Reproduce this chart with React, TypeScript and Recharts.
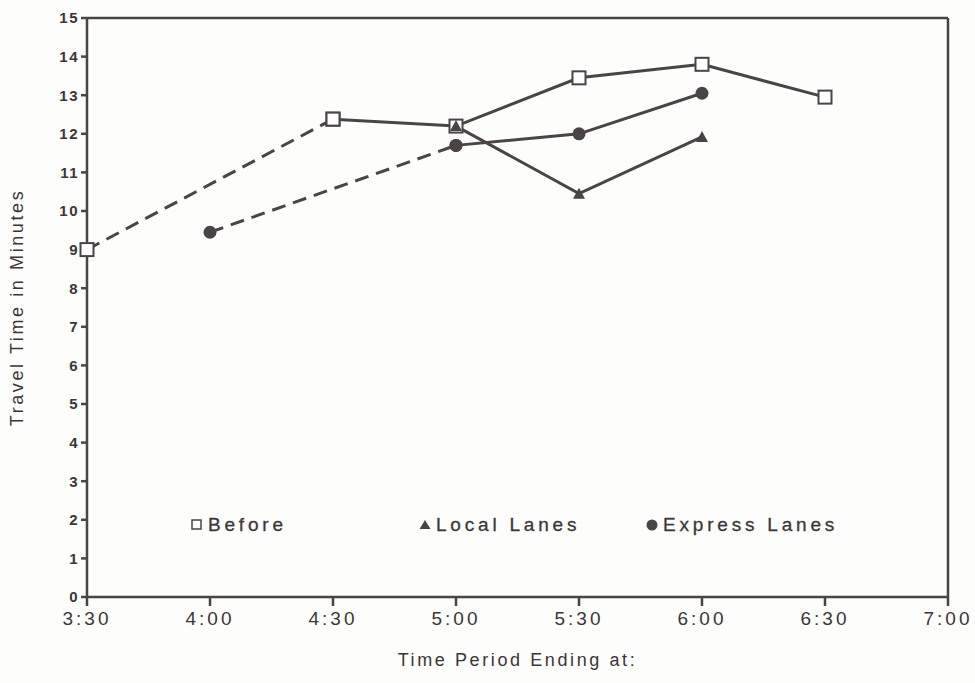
import React from "react";
import { LineChart, Line, XAxis, YAxis, ReferenceLine } from "recharts";

const timeTicks = [3.5, 4, 4.5, 5, 5.5, 6, 6.5, 7];
const timeLabels = ["3:30", "4:00", "4:30", "5:00", "5:30", "6:00", "6:30", "7:00"];
const minuteTicks = [0, 1, 2, 3, 4, 5, 6, 7, 8, 9, 10, 11, 12, 13, 14, 15];

const beforeDashed = [
  { time: 3.5, minutes: 9.0 },
  { time: 4.5, minutes: 12.38 },
];
const beforeSolid = [
  { time: 4.5, minutes: 12.38 },
  { time: 5, minutes: 12.2 },
  { time: 5.5, minutes: 13.45 },
  { time: 6, minutes: 13.8 },
  { time: 6.5, minutes: 12.95 },
];
const localSolid = [
  { time: 5, minutes: 12.2 },
  { time: 5.5, minutes: 10.45 },
  { time: 6, minutes: 11.92 },
];
const expressDashed = [
  { time: 4, minutes: 9.45 },
  { time: 5, minutes: 11.7 },
];
const expressSolid = [
  { time: 5, minutes: 11.7 },
  { time: 5.5, minutes: 12.0 },
  { time: 6, minutes: 13.05 },
];

const legendNames = ["Before", "Local Lanes", "Express Lanes"];

const INK = "#4a4446";
const TEXT = "#3c3638";
const FONT = "'Liberation Sans', Arial, sans-serif";

const SquareDot = (props: any) => {
  const { cx, cy, index } = props;
  if (cx == null || cy == null) return <g key={`s${index}`} />;
  return (
    <rect key={`s${index}`} x={cx - 6.5} y={cy - 6.5} width={13} height={13} fill="#ffffff" stroke={INK} strokeWidth={2} />
  );
};
const TriangleDot = (props: any) => {
  const { cx, cy, index } = props;
  if (cx == null || cy == null) return <g key={`t${index}`} />;
  return (
    <polygon key={`t${index}`} points={`${cx},${cy - 6} ${cx - 6},${cy + 5} ${cx + 6},${cy + 5}`} fill={INK} stroke="none" />
  );
};
const CircleDot = (props: any) => {
  const { cx, cy, index } = props;
  if (cx == null || cy == null) return <g key={`c${index}`} />;
  return <circle key={`c${index}`} cx={cx} cy={cy} r={6.5} fill={INK} stroke="none" />;
};

const legendLayout = [
  { left: 190, marker: "square" },
  { left: 418, marker: "triangle" },
  { left: 645, marker: "circle" },
];

const LegendOverlay = () => (
  <div style={{ position: "absolute", left: 0, top: 514, width: 975, height: 30, pointerEvents: "none" }}>
    {legendNames.map((name, i) => (
      <div
        key={name}
        style={{
          position: "absolute",
          left: legendLayout[i].left,
          top: 0,
          display: "flex",
          alignItems: "center",
          fontFamily: FONT,
          fontSize: 19,
          letterSpacing: 3.8,
          color: TEXT,
          whiteSpace: "nowrap",
          WebkitTextStroke: "0.3px #3c3638",
        }}
      >
        <svg width={14} height={14} style={{ marginRight: 4 }}>
          {legendLayout[i].marker === "square" && <rect x={2} y={2} width={9} height={9} fill="#fff" stroke={INK} strokeWidth={1.5} />}
          {legendLayout[i].marker === "triangle" && <polygon points="7,2 1.5,11 12.5,11" fill={INK} />}
          {legendLayout[i].marker === "circle" && <circle cx={7} cy={7} r={5.5} fill={INK} />}
        </svg>
        <span>{name}</span>
      </div>
    ))}
  </div>
);

export default function App() {
  return (
    <div style={{ position: "absolute", left: 0, top: 0, width: 975, height: 683, background: "#fdfdfb" }}>
      <LineChart width={975} height={683} margin={{ top: 18, right: 27, bottom: 0, left: 0 }}>
        <XAxis
          xAxisId="main"
          dataKey="time"
          type="number"
          domain={[3.5, 7]}
          ticks={timeTicks}
          tickFormatter={(v: number) => timeLabels[timeTicks.indexOf(v)] ?? ""}
          allowDuplicatedCategory={false}
          height={86}
          stroke={INK}
          strokeWidth={2.5}
          tickSize={9}
          tickMargin={6}
          tick={{ fill: TEXT, fontSize: 19, fontFamily: FONT, letterSpacing: 3 }}
          label={{
            value: "Time Period Ending at:",
            position: "insideBottom",
            offset: 17,
            fill: TEXT,
            fontSize: 18,
            fontFamily: FONT,
            letterSpacing: 2.6,
          }}
        />
        <YAxis
          yAxisId="main"
          type="number"
          domain={[0, 15]}
          ticks={minuteTicks}
          interval={0}
          width={87}
          stroke={INK}
          strokeWidth={2.5}
          tickSize={6}
          tickMargin={2}
          tick={{ fill: TEXT, fontSize: 15, fontFamily: FONT, fontWeight: "bold", letterSpacing: 1.5 }}
          label={{
            value: "Travel Time in Minutes",
            angle: -90,
            position: "insideLeft",
            offset: 17,
            fill: TEXT,
            fontSize: 18,
            fontFamily: FONT,
            letterSpacing: 2.6,
            style: { textAnchor: "middle" },
          }}
        />
        <ReferenceLine xAxisId="main" yAxisId="main" y={15} stroke={INK} strokeWidth={2.5} />
        <ReferenceLine xAxisId="main" yAxisId="main" x={7} stroke={INK} strokeWidth={2.5} />
        <Line xAxisId="main" yAxisId="main" data={beforeDashed} dataKey="minutes" name="Before" stroke={INK} strokeWidth={3} strokeDasharray="14 8" dot={SquareDot} isAnimationActive={false} />
        <Line xAxisId="main" yAxisId="main" data={beforeSolid} dataKey="minutes" name="Before" stroke={INK} strokeWidth={3} dot={SquareDot} isAnimationActive={false} />
        <Line xAxisId="main" yAxisId="main" data={localSolid} dataKey="minutes" name="Local Lanes" stroke={INK} strokeWidth={3} dot={TriangleDot} isAnimationActive={false} />
        <Line xAxisId="main" yAxisId="main" data={expressDashed} dataKey="minutes" name="Express Lanes" stroke={INK} strokeWidth={3} strokeDasharray="14 8" dot={CircleDot} isAnimationActive={false} />
        <Line xAxisId="main" yAxisId="main" data={expressSolid} dataKey="minutes" name="Express Lanes" stroke={INK} strokeWidth={3} dot={CircleDot} isAnimationActive={false} />
      </LineChart>
      <LegendOverlay />
    </div>
  );
}
